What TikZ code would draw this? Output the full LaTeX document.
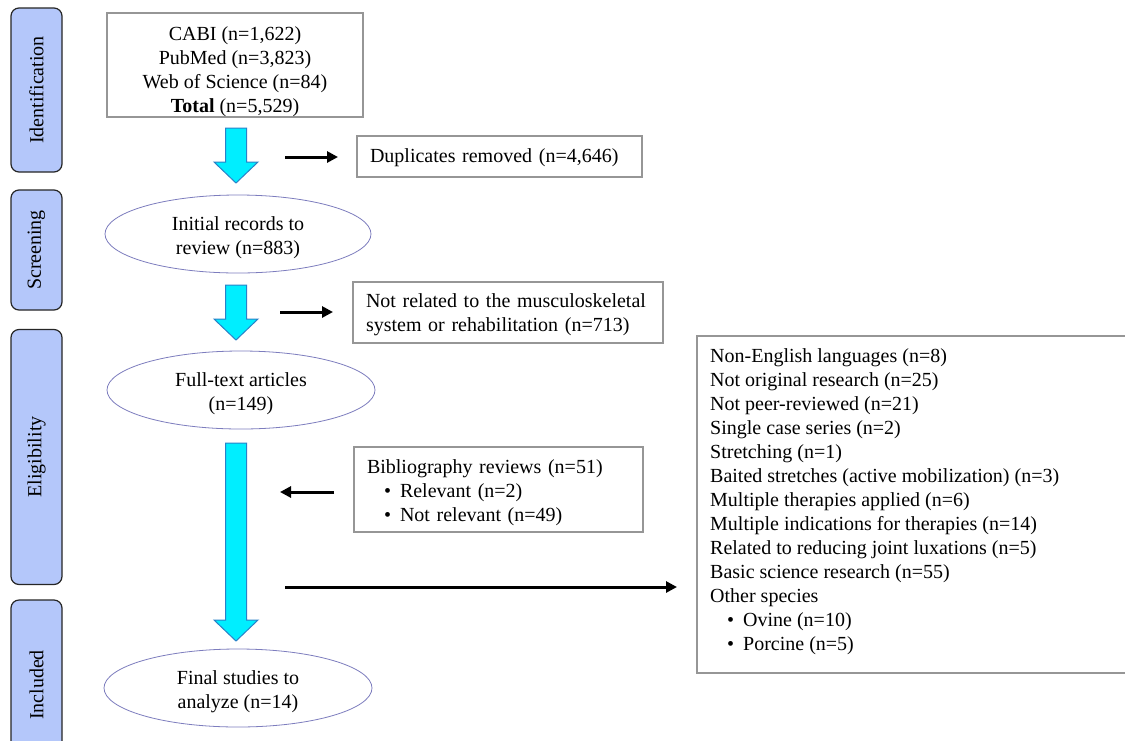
\documentclass[tikz,border=0pt]{standalone}
\usepackage{fontspec}
\setmainfont{Liberation Serif}
\usetikzlibrary{shapes.geometric,arrows.meta}
\definecolor{phasefill}{RGB}{180,199,250}
\definecolor{boxgray}{RGB}{150,150,150}
\definecolor{ovalc}{RGB}{125,125,190}
\definecolor{cyanf}{RGB}{0,238,255}
\definecolor{cyand}{RGB}{40,130,200}
\newcommand{\cyanarrow}[3]{%
  \draw[cyanarr] (#1-10.5,#2) -- (#1+10.5,#2) -- (#1+10.5,#3-21) -- (#1+22,#3-21) -- (#1,#3) -- (#1-22,#3-21) -- (#1-10.5,#3-21) -- cycle;}
\newcommand{\blt}{\hspace*{17pt}\textbullet\hspace{9pt}}
\newcommand{\dnshift}[1]{\rule{0pt}{#1}}
\begin{document}
\begin{tikzpicture}[x=1pt,y=-1pt,
  every node/.style={font=\fontsize{20}{24}\selectfont},
  phase/.style={draw=black!85, line width=1.2pt, rounded corners=8pt, fill=phasefill, rotate=90, inner sep=0pt},
  gbox/.style={draw=boxgray, line width=1.2pt, inner ysep=0pt, inner xsep=13pt, align=left},
  oval/.style={ellipse, draw=ovalc, line width=0.8pt, inner sep=0pt, align=center},
  blk/.style={-{Triangle[length=11pt,width=11pt]}, line width=3pt},
  cyanarr/.style={fill=cyanf, draw=cyand, line width=1pt}]
\useasboundingbox (0,0) rectangle (1125,740);
\fill[white] (0,0) rectangle (1125,740);

% phase bars
\node[phase, minimum width=164pt, minimum height=51pt] (pid) at (36.5,90) {Identification};
\node[phase, minimum width=120pt, minimum height=51pt] (psc) at (36.5,250) {Screening};
\node[phase, minimum width=255pt, minimum height=51pt] (pel) at (36.5,457) {Eligibility};
\node[phase, minimum width=170pt, minimum height=51pt] (pin) at (36.5,685) {Included};

% boxes
\node[draw=boxgray, line width=1.2pt, inner sep=0pt, align=center, minimum width=256pt, minimum height=104pt] (cabi) at (235,65)
  {\dnshift{27.5pt}CABI (n=1,622)\\PubMed (n=3,823)\\Web of Science (n=84)\\\textbf{Total} (n=5,529)};
\node[gbox, minimum width=285pt, minimum height=41pt, text width=259pt] (dup) at (499.5,156.5) {\dnshift{16pt}Duplicates removed (n=4,646)};
\node[gbox, minimum width=310pt, minimum height=61pt, text width=284pt] (nrel) at (508,312.5)
  {\dnshift{17.5pt}Not related to the musculoskeletal\\system or rehabilitation (n=713)};
\node[gbox, minimum width=289pt, minimum height=85pt, text width=263pt] (bib) at (498.5,489.5)
  {\dnshift{19.5pt}Bibliography reviews (n=51)\\\blt Relevant (n=2)\\\blt Not relevant (n=49)};
\node[draw=boxgray, line width=1.2pt, minimum width=440pt, minimum height=337pt, inner sep=0pt] (excl) at (917,504.5) {};
\node[anchor=west, align=left, inner sep=0pt] (excltext) at (710,502)
  {Non-English languages (n=8)\\
   Not original research (n=25)\\
   Not peer-reviewed (n=21)\\
   Single case series (n=2)\\
   Stretching (n=1)\\
   Baited stretches (active mobilization) (n=3)\\
   Multiple therapies applied (n=6)\\
   Multiple indications for therapies (n=14)\\
   Related to reducing joint luxations (n=5)\\
   Basic science research (n=55)\\
   Other species\\
   \blt Ovine (n=10)\\
   \blt Porcine (n=5)};

% ellipses
\node[oval, minimum width=266pt, minimum height=78pt] (init) at (238,234) {\dnshift{22pt}Initial records to\\review (n=883)};
\node[oval, minimum width=268pt, minimum height=78pt] (full) at (241,390) {\dnshift{22pt}Full-text articles\\(n=149)};
\node[oval, minimum width=268pt, minimum height=78pt] (final) at (238,688) {\dnshift{22pt}Final studies to\\analyze (n=14)};

% cyan block arrows
\cyanarrow{236}{128}{183}
\cyanarrow{236}{285}{340}
\cyanarrow{236}{443}{641}

% black arrows
\coordinate (a1s) at (285,157); \coordinate (a1e) at (338,157);
\coordinate (a2s) at (280,312); \coordinate (a2e) at (333,312);
\coordinate (a3s) at (334,492); \coordinate (a3e) at (280,492);
\coordinate (a4s) at (285,587); \coordinate (a4e) at (677,587);
\draw[blk] (a1s) -- (a1e);
\draw[blk] (a2s) -- (a2e);
\draw[blk] (a3s) -- (a3e);
\draw[blk] (a4s) -- (a4e);
\end{tikzpicture}
\end{document}
